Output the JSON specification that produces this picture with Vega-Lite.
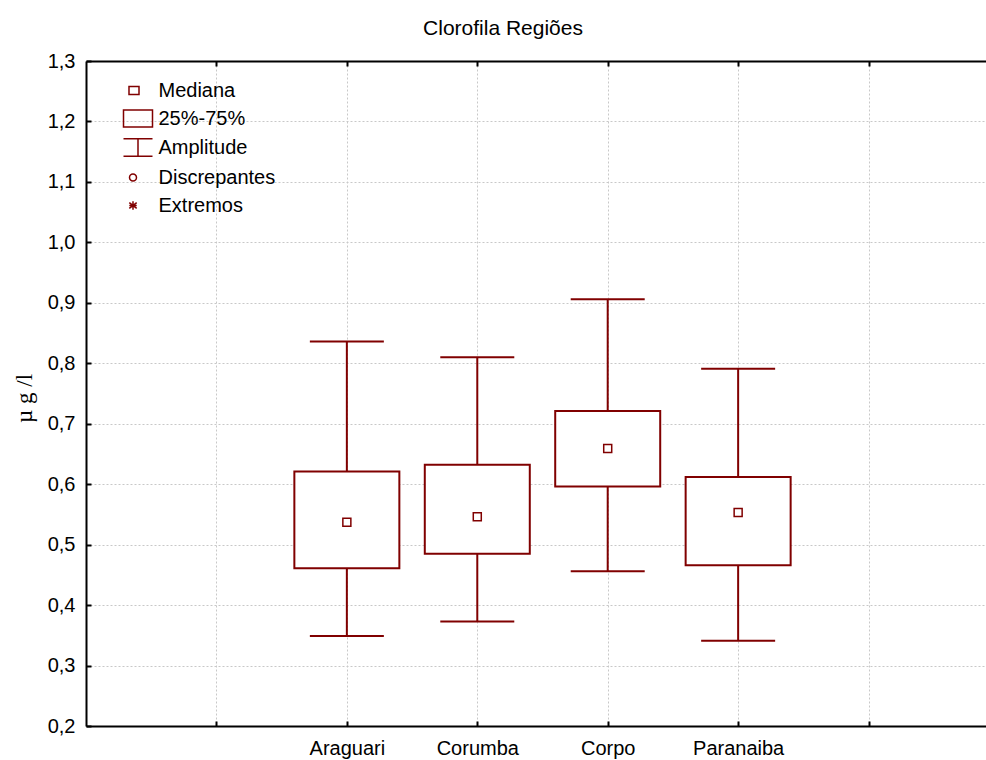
{
  "$schema": "https://vega.github.io/schema/vega-lite/v6.json",
  "width": 900,
  "height": 665,
  "autosize": "none",
  "padding": {"left": 86, "top": 61, "right": 0, "bottom": 34},
  "background": "white",
  "title": {
    "text": "Clorofila Regiões",
    "font": "Liberation Sans",
    "fontSize": 21,
    "fontWeight": "normal",
    "color": "#000000",
    "anchor": "middle",
    "offset": 12,
    "dx": -33
  },
  "config": {
    "view": {"stroke": null},
    "axis": {
      "labelFont": "Liberation Sans",
      "labelFontSize": 20,
      "labelColor": "#000000",
      "domainColor": "#000000",
      "domainWidth": 2,
      "tickColor": "#000000",
      "tickWidth": 2,
      "tickSize": -5,
      "gridColor": "#c8c8c8",
      "gridDash": [2, 2],
      "gridWidth": 1
    }
  },
  "layer": [
    {
      "data": {
        "values": [
          {"regiao": "Araguari", "min": 0.349, "q1": 0.461, "mediana": 0.537, "q3": 0.621, "max": 0.836},
          {"regiao": "Corumba", "min": 0.373, "q1": 0.485, "mediana": 0.546, "q3": 0.632, "max": 0.810},
          {"regiao": "Corpo", "min": 0.456, "q1": 0.596, "mediana": 0.659, "q3": 0.721, "max": 0.906},
          {"regiao": "Paranaiba", "min": 0.341, "q1": 0.466, "mediana": 0.553, "q3": 0.612, "max": 0.791}
        ]
      },
      "encoding": {
        "x": {
          "field": "regiao",
          "type": "nominal",
          "sort": null,
          "scale": {
            "type": "point",
            "domain": [" ", "Araguari", "Corumba", "Corpo", "Paranaiba", "  "],
            "range": [0, 913],
            "padding": 1
          },
          "axis": null
        }
      },
      "layer": [
        {
          "mark": {"type": "rule", "color": "#800000", "strokeWidth": 2, "opacity": 1},
          "encoding": {
            "x": {
              "field": "regiao",
              "type": "nominal",
              "sort": null,
              "axis": {
                "orient": "bottom",
                "title": null,
                "grid": true,
                "labelAngle": 0,
                "labelPadding": 17
              }
            },
            "y": {
              "field": "min",
              "type": "quantitative",
              "title": "µ g /l",
              "scale": {"domain": [0.2, 1.3], "nice": false, "zero": false},
              "axis": {
                "orient": "left",
                "titleFont": "Liberation Serif",
                "titleFontSize": 23,
                "titleFontWeight": "normal",
                "titleColor": "#000000",
                "titleX": -62,
                "titleY": 337,
                "titleAngle": -90,
                "titleAlign": "center",
                "titleBaseline": "middle",
                "values": [0.2, 0.3, 0.4, 0.5, 0.6, 0.7, 0.8, 0.9, 1.0, 1.1, 1.2, 1.3],
                "labelExpr": "replace(format(datum.value, '.1f'), '.', ',')",
                "labelPadding": 16,
                "grid": true
              }
            },
            "y2": {"field": "max"}
          }
        },
        {
          "mark": {"type": "tick", "color": "#800000", "thickness": 2, "size": 74, "opacity": 1},
          "encoding": {
            "y": {"field": "min", "type": "quantitative", "title": "µ g /l"}
          }
        },
        {
          "mark": {"type": "tick", "color": "#800000", "thickness": 2, "size": 74, "opacity": 1},
          "encoding": {
            "x": {
              "field": "regiao",
              "type": "nominal",
              "sort": null,
              "axis": {
                "orient": "top",
                "title": null,
                "labels": false,
                "grid": false
              }
            },
            "y": {"field": "max", "type": "quantitative", "title": "µ g /l"}
          }
        },
        {
          "mark": {
            "type": "bar",
            "size": 105,
            "fill": "#ffffff",
            "stroke": "#800000",
            "strokeWidth": 2,
            "opacity": 1
          },
          "encoding": {
            "y": {"field": "q1", "type": "quantitative", "title": "µ g /l"},
            "y2": {"field": "q3"}
          }
        },
        {
          "mark": {
            "type": "point",
            "shape": "square",
            "size": 64,
            "filled": false,
            "color": "#800000",
            "strokeWidth": 1.5,
            "opacity": 1
          },
          "encoding": {
            "y": {"field": "mediana", "type": "quantitative", "title": "µ g /l"}
          }
        }
      ]
    },
    {
      "data": {
        "values": [
          {"item": "Mediana"},
          {"item": "25%-75%"},
          {"item": "Amplitude"},
          {"item": "Discrepantes"},
          {"item": "Extremos"}
        ]
      },
      "mark": {"type": "point", "filled": false, "color": "#800000", "opacity": 0},
      "encoding": {
        "shape": {
          "field": "item",
          "type": "nominal",
          "sort": null,
          "scale": {
            "domain": ["Mediana", "25%-75%", "Amplitude", "Discrepantes", "Extremos"],
            "range": [
              "M-0.621,-0.276H0.069V0.276H-0.621Z",
              "M-1,-0.586H1V0.586H-1Z",
              "M-1,-0.6H1M0,-0.6V0.6M-1,0.6H1",
              "M-0.586,0A0.241,0.241,0,1,0,-0.104,0A0.241,0.241,0,1,0,-0.586,0Z",
              "M-0.345,-0.3V0.3M-0.6,-0.2L-0.09,0.2M-0.6,0.2L-0.09,-0.2M-0.6,0H-0.09"
            ]
          },
          "legend": {
            "orient": "none",
            "legendX": 36.5,
            "legendY": 14,
            "title": null,
            "padding": 0,
            "rowPadding": 2,
            "symbolSize": 841,
            "symbolStrokeWidth": 1.5,
            "symbolStrokeColor": "#800000",
            "symbolFillColor": "transparent",
            "symbolOpacity": 1,
            "labelFont": "Liberation Sans",
            "labelFontSize": 20,
            "labelColor": "#000000",
            "labelOffset": 5,
            "encode": {
              "symbols": {
                "update": {
                  "opacity": {"value": 1},
                  "fill": {"value": "transparent"},
                  "stroke": {"value": "#800000"},
                  "strokeWidth": {"value": 1.5}
                }
              }
            }
          }
        }
      }
    }
  ]
}
